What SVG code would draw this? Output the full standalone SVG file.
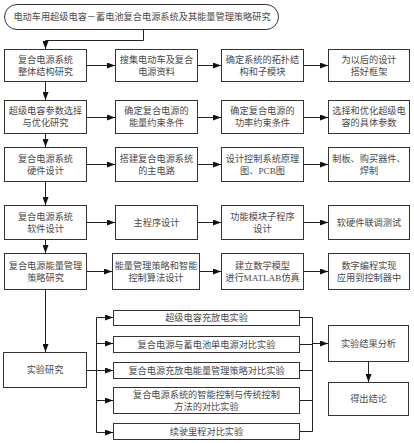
<svg xmlns="http://www.w3.org/2000/svg" width="414" height="443" viewBox="0 0 414 443">
<style>
.box{fill:#fff;stroke:#333;stroke-width:1}
.t{font-family:"Liberation Serif","Noto Sans CJK SC",serif;font-size:9.2px;fill:#4a4a4a;text-anchor:middle;dominant-baseline:central}
.c{fill:none;stroke:#222;stroke-width:1}
</style>
<defs>
<marker id="ah" viewBox="0 0 8 6" refX="8" refY="3" markerWidth="8" markerHeight="6" markerUnits="userSpaceOnUse" orient="auto">
<path d="M0,0 L8,3 L0,6 Z" fill="#111"/>
</marker>
</defs>
<rect width="414" height="443" fill="#fff"/>
<g id="title"><rect class="box" x="4.5" y="4.5" width="274" height="25" rx="12.5"/><text class="t" x="142" y="17">电动车用超级电容－蓄电池复合电源系统及其能量管理策略研究</text></g>

<g id="r1c1"><rect class="box" x="4.5" y="49.5" width="82" height="32"/><text class="t" x="45.5" y="59.5">复合电源系统</text><text class="t" x="45.5" y="71.5">整体结构研究</text></g>
<g id="r1c2"><rect class="box" x="115.5" y="49.5" width="82" height="32"/><text class="t" x="156.5" y="59.5">搜集电动车及复合</text><text class="t" x="156.5" y="71.5">电源资料</text></g>
<g id="r1c3"><rect class="box" x="221.5" y="49.5" width="82" height="32"/><text class="t" x="262.5" y="59.5">确定系统的拓扑结</text><text class="t" x="262.5" y="71.5">构和子模块</text></g>
<g id="r1c4"><rect class="box" x="328.5" y="49.5" width="81" height="32"/><text class="t" x="369" y="59.5">为以后的设计</text><text class="t" x="369" y="71.5">搭好框架</text></g>

<g id="r2c1"><rect class="box" x="4.5" y="100.5" width="82" height="33"/><text class="t" x="45.5" y="111">超级电容参数选择</text><text class="t" x="45.5" y="123">与优化研究</text></g>
<g id="r2c2"><rect class="box" x="115.5" y="100.5" width="82" height="33"/><text class="t" x="156.5" y="111">确定复合电源的</text><text class="t" x="156.5" y="123">能量约束条件</text></g>
<g id="r2c3"><rect class="box" x="221.5" y="100.5" width="82" height="33"/><text class="t" x="262.5" y="111">确定复合电源的</text><text class="t" x="262.5" y="123">功率约束条件</text></g>
<g id="r2c4"><rect class="box" x="328.5" y="100.5" width="81" height="33"/><text class="t" x="369" y="111">选择和优化超级电</text><text class="t" x="369" y="123">容的具体参数</text></g>

<g id="r3c1"><rect class="box" x="4.5" y="147.5" width="82" height="34"/><text class="t" x="45.5" y="158.5">复合电源系统</text><text class="t" x="45.5" y="170.5">硬件设计</text></g>
<g id="r3c2"><rect class="box" x="115.5" y="147.5" width="82" height="34"/><text class="t" x="156.5" y="158.5">搭建复合电源系统</text><text class="t" x="156.5" y="170.5">的主电路</text></g>
<g id="r3c3"><rect class="box" x="221.5" y="147.5" width="82" height="34"/><text class="t" x="262.5" y="158.5">设计控制系统原理</text><text class="t" x="262.5" y="170.5">图、PCB图</text></g>
<g id="r3c4"><rect class="box" x="328.5" y="147.5" width="81" height="34"/><text class="t" x="369" y="158.5">制板、购买器件、</text><text class="t" x="369" y="170.5">焊制</text></g>

<g id="r4c1"><rect class="box" x="4.5" y="205.5" width="82" height="34"/><text class="t" x="45.5" y="216.5">复合电源系统</text><text class="t" x="45.5" y="228.5">软件设计</text></g>
<g id="r4c2"><rect class="box" x="115.5" y="205.5" width="82" height="34"/><text class="t" x="156.5" y="222.5">主程序设计</text></g>
<g id="r4c3"><rect class="box" x="221.5" y="205.5" width="82" height="34"/><text class="t" x="262.5" y="216.5">功能模块子程序</text><text class="t" x="262.5" y="228.5">设计</text></g>
<g id="r4c4"><rect class="box" x="328.5" y="205.5" width="81" height="34"/><text class="t" x="369" y="222.5">软硬件联调测试</text></g>

<g id="r5c1"><rect class="box" x="4.5" y="253.5" width="82" height="36"/><text class="t" x="45.5" y="265.5">复合电源能量管理</text><text class="t" x="45.5" y="277.5">策略研究</text></g>
<g id="r5c2"><rect class="box" x="112.5" y="253.5" width="87" height="36"/><text class="t" x="156" y="265.5">能量管理策略和智能</text><text class="t" x="156" y="277.5">控制算法设计</text></g>
<g id="r5c3"><rect class="box" x="221.5" y="253.5" width="82" height="36"/><text class="t" x="262.5" y="265.5">建立数学模型</text><text class="t" x="262.5" y="277.5">进行MATLAB仿真</text></g>
<g id="r5c4"><rect class="box" x="328.5" y="253.5" width="81" height="36"/><text class="t" x="369" y="265.5">数字编程实现</text><text class="t" x="369" y="277.5">应用到控制器中</text></g>

<g id="exp"><rect class="box" x="3.5" y="352.5" width="83" height="35"/><text class="t" x="45" y="370">实验研究</text></g>
<g id="eA"><rect class="box" x="113.5" y="310.5" width="186" height="15"/><text class="t" x="206.5" y="318">超级电容充放电实验</text></g>
<g id="eB"><rect class="box" x="113.5" y="336.5" width="186" height="16"/><text class="t" x="206.5" y="344.5">复合电源与蓄电池单电源对比实验</text></g>
<g id="eC"><rect class="box" x="113.5" y="362.5" width="186" height="16"/><text class="t" x="206.5" y="370.5">复合电源充放电能量管理策略对比实验</text></g>
<g id="eD"><rect class="box" x="113.5" y="387.5" width="186" height="26"/><text class="t" x="206.5" y="394.5">复合电源系统的智能控制与传统控制</text><text class="t" x="206.5" y="406.5">方法的对比实验</text></g>
<g id="eE"><rect class="box" x="113.5" y="423.5" width="186" height="16"/><text class="t" x="206.5" y="431.5">续驶里程对比实验</text></g>
<g id="res"><rect class="box" x="328.5" y="325.5" width="80" height="36"/><text class="t" x="368.5" y="343.5">实验结果分析</text></g>
<g id="con"><rect class="box" x="328.5" y="382.5" width="80" height="33"/><text class="t" x="368.5" y="399">得出结论</text></g>

<g id="connectors">
<path class="c" d="M143.5,29.5 V40.5 H45.5 V49" marker-end="url(#ah)"/>
<path class="c" d="M45.5,82 V100" marker-end="url(#ah)"/>
<path class="c" d="M45.5,134 V147" marker-end="url(#ah)"/>
<path class="c" d="M45.5,182 V205" marker-end="url(#ah)"/>
<path class="c" d="M45.5,240 V253" marker-end="url(#ah)"/>
<path class="c" d="M45.5,290 V352" marker-end="url(#ah)"/>

<path class="c" d="M87,65.5 H115" marker-end="url(#ah)"/>
<path class="c" d="M198,65.5 H221" marker-end="url(#ah)"/>
<path class="c" d="M304,65.5 H328" marker-end="url(#ah)"/>
<path class="c" d="M87,117.5 H115" marker-end="url(#ah)"/>
<path class="c" d="M198,117.5 H221" marker-end="url(#ah)"/>
<path class="c" d="M304,117.5 H328" marker-end="url(#ah)"/>
<path class="c" d="M87,164.5 H115" marker-end="url(#ah)"/>
<path class="c" d="M198,164.5 H221" marker-end="url(#ah)"/>
<path class="c" d="M304,164.5 H328" marker-end="url(#ah)"/>
<path class="c" d="M87,222.5 H115" marker-end="url(#ah)"/>
<path class="c" d="M198,222.5 H221" marker-end="url(#ah)"/>
<path class="c" d="M304,222.5 H328" marker-end="url(#ah)"/>
<path class="c" d="M87,271.5 H112" marker-end="url(#ah)"/>
<path class="c" d="M200,271.5 H221" marker-end="url(#ah)"/>
<path class="c" d="M304,271.5 H328" marker-end="url(#ah)"/>

<path class="c" d="M87,370.5 H96.5"/>
<path class="c" d="M96.5,317.5 V432.5"/>
<path class="c" d="M96.5,317.5 H113" marker-end="url(#ah)"/>
<path class="c" d="M96.5,343.5 H113" marker-end="url(#ah)"/>
<path class="c" d="M96.5,370.5 H113" marker-end="url(#ah)"/>
<path class="c" d="M96.5,400.5 H113" marker-end="url(#ah)"/>
<path class="c" d="M96.5,432.5 H113" marker-end="url(#ah)"/>

<path class="c" d="M300,317.5 H312.5 V431.5 H300"/>
<path class="c" d="M300,344.5 H312.5"/>
<path class="c" d="M300,370.5 H312.5"/>
<path class="c" d="M300,400.5 H312.5"/>
<path class="c" d="M312.5,343.5 H328" marker-end="url(#ah)"/>
<path class="c" d="M368.5,362 V382" marker-end="url(#ah)"/>
</g>
</svg>
